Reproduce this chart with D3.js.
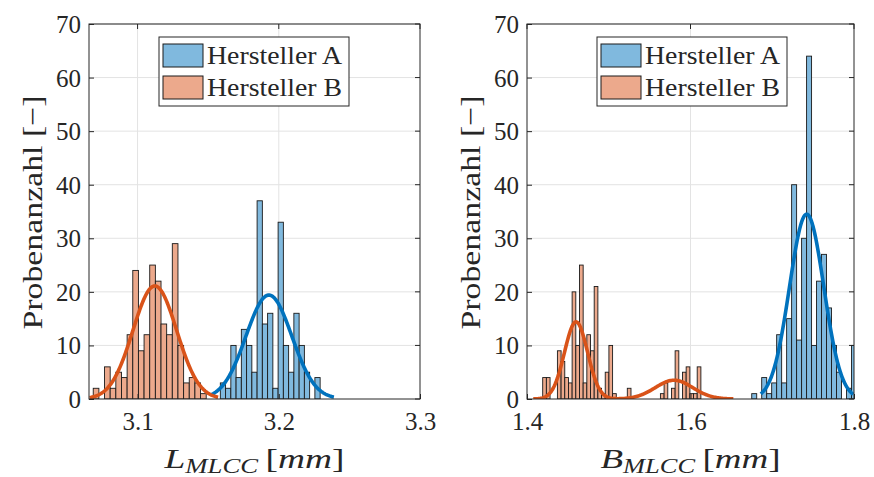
<!DOCTYPE html>
<html><head><meta charset="utf-8">
<script src="https://cdn.jsdelivr.net/npm/d3@7/dist/d3.min.js"></script>
<style>
body{margin:0;background:#fff}
svg{display:block}
text{font-family:"Liberation Serif","Times New Roman",serif;fill:#262626}
</style></head>
<body><svg id="chart" width="874" height="477"></svg>
<script>
// ---------------- data ----------------
const seriesNames = ["Hersteller A", "Hersteller B"];
const yTicks = [0, 10, 20, 30, 40, 50, 60, 70];

// left panel: L_MLCC
const leftXTicks = [3.1, 3.2, 3.3];
const leftXDomain = [3.0656, 3.3];
const leftA_binStart = 3.1586, leftA_binWidth = 0.00372;
const leftA_counts = [3, 2, 10, 4, 13, 10, 5, 37, 14, 16, 2, 33, 10, 5, 16, 10, 5, 0, 4];
const leftB_binStart = 3.0686, leftB_binWidth = 0.0040;
const leftB_counts = [2, 0, 6, 2, 5, 4, 12, 24, 9, 12, 25, 22, 14, 12, 29, 10, 3, 4, 3, 1];
// fit curves: [mean, sigma, peak count], drawn range [from, to]
const leftA_fit = [[3.193, 0.0162, 19.4]];
const leftA_fitRange = [3.152, 3.239];
const leftB_fit = [[3.1122, 0.0155, 21.1]];
const leftB_fitRange = [3.066, 3.157];

// right panel: B_MLCC
const rightXTicks = [1.4, 1.6, 1.8];
const rightXDomain = [1.4, 1.8];
const rightA_binStart = 1.6749, rightA_binWidth = 0.0061;
const rightA_counts = [1, 0, 4, 1, 3, 12, 3, 15, 40, 11, 30, 64, 10, 22, 27, 17, 10, 5, 0, 2, 10];
const rightB_binStart = 1.4192, rightB_binWidth = 0.0045;
const rightB_counts = [4, 4, 0, 0, 9, 7, 4, 3, 20, 10, 25, 3, 12, 9, 21, 2, 1, 5, 10, 1, 0, 0, 0, 2,
                       0, 0, 0, 0, 0, 0, 0, 0, 1, 3, 0, 2, 9, 0, 5, 6, 1, 1, 6];
const rightA_fit = [[1.7421, 0.021, 34.5]];
const rightA_fitRange = [1.686, 1.799];
const rightB_fit = [[1.460, 0.0141, 14.4], [1.5798, 0.0229, 3.5]];
const rightB_fitRange = [1.4077, 1.6524];

// ---------------- style ----------------
const fillA = "#80b9de", fillB = "#eca98c";
const lineA = "#0072bd", lineB = "#d95319";
const axisColor = "#262626", gridColor = "#e3e3e3";
const serif = "Liberation Serif";

const svg = d3.select("#chart");

function panel(opt) {
  const g = svg.append("g");
  const x = d3.scaleLinear().domain(opt.xDomain).range([opt.x0, opt.x1]);
  const y = d3.scaleLinear().domain([0, 70]).range([opt.y1, opt.y0]);

  // grid
  g.append("g").selectAll("line").data(yTicks.slice(1)).join("line")
    .attr("x1", opt.x0).attr("x2", opt.x1)
    .attr("y1", d => y(d)).attr("y2", d => y(d))
    .attr("stroke", gridColor).attr("stroke-width", 1);
  g.append("g").selectAll("line").data(opt.xTicks.filter(t => x(t) > opt.x0 + 1 && x(t) < opt.x1 - 1)).join("line")
    .attr("x1", d => x(d)).attr("x2", d => x(d))
    .attr("y1", opt.y0).attr("y2", opt.y1)
    .attr("stroke", gridColor).attr("stroke-width", 1);

  const clip = "clip" + opt.id;
  svg.append("clipPath").attr("id", clip).append("rect")
    .attr("x", opt.x0).attr("y", opt.y0).attr("width", opt.x1 - opt.x0).attr("height", opt.y1 - opt.y0);
  const plot = g.append("g").attr("clip-path", `url(#${clip})`);

  function bars(start, width, counts, fill) {
    const data = counts.map((c, i) => ({x0: start + i * width, x1: start + (i + 1) * width, c}))
      .filter(d => d.c > 0);
    plot.append("g").selectAll("rect").data(data).join("rect")
      .attr("x", d => x(d.x0)).attr("width", d => x(d.x1) - x(d.x0))
      .attr("y", d => y(d.c)).attr("height", d => y(0) - y(d.c))
      .attr("fill", fill).attr("stroke", "#1a1a1a").attr("stroke-width", 0.9);
  }
  function curve(fit, range, color) {
    const n = 200;
    const pts = d3.range(n + 1).map(i => {
      const xv = range[0] + (range[1] - range[0]) * i / n;
      const yv = d3.sum(fit, f => f[2] * Math.exp(-((xv - f[0]) ** 2) / (2 * f[1] * f[1])));
      return [xv, yv];
    });
    plot.append("path").datum(pts)
      .attr("d", d3.line().x(d => x(d[0])).y(d => y(d[1])))
      .attr("fill", "none").attr("stroke", color).attr("stroke-width", 3.6)
      .attr("stroke-linejoin", "round");
  }
  bars(opt.aStart, opt.aWidth, opt.aCounts, fillA);
  curve(opt.aFit, opt.aRange, lineA);
  bars(opt.bStart, opt.bWidth, opt.bCounts, fillB);
  curve(opt.bFit, opt.bRange, lineB);

  // axes
  const ax = g.append("g").attr("transform", `translate(0,${opt.y1})`)
    .call(d3.axisBottom(x).tickValues(opt.xTicks).tickSizeInner(-5).tickSizeOuter(0).tickPadding(10)
      .tickFormat(d3.format(".1f")));
  const ay = g.append("g").attr("transform", `translate(${opt.x0},0)`)
    .call(d3.axisLeft(y).tickValues(yTicks).tickSizeInner(-5).tickSizeOuter(0).tickPadding(8));
  [ax, ay].forEach(a => {
    a.attr("font-family", serif).attr("font-size", 25);
    a.select(".domain").remove();
    a.selectAll(".tick line").attr("stroke", axisColor);
    a.selectAll(".tick text").attr("fill", axisColor)
      .attr("font-family", serif).attr("font-size", 25)
      .style("font-family", serif).style("font-size", "25px");
  });
  ax.selectAll(".tick text").attr("dy", "0.85em");
  ay.selectAll(".tick text").attr("dy", "0.34em");
  // top/right ticks
  g.append("g").selectAll("line").data(yTicks).join("line")
    .attr("x1", opt.x1).attr("x2", opt.x1 - 5).attr("y1", d => y(d)).attr("y2", d => y(d)).attr("stroke", axisColor);
  g.append("g").selectAll("line").data(opt.xTicks).join("line")
    .attr("x1", d => x(d)).attr("x2", d => x(d)).attr("y1", opt.y0).attr("y2", opt.y0 + 5).attr("stroke", axisColor);
  // box
  g.append("rect").attr("x", opt.x0).attr("y", opt.y0)
    .attr("width", opt.x1 - opt.x0).attr("height", opt.y1 - opt.y0)
    .attr("fill", "none").attr("stroke", axisColor).attr("stroke-width", 1);

  // y label
  svg.append("text")
    .attr("transform", `translate(${opt.x0 - 47},${(opt.y0 + opt.y1) / 2 + 1}) rotate(-90)`)
    .attr("text-anchor", "middle").style("font-size", "28px")
    .attr("textLength", 234).attr("lengthAdjust", "spacingAndGlyphs")
    .text("Probenanzahl [\u2212]");

  // x label
  const xl = svg.append("text")
    .attr("x", (opt.x0 + opt.x1) / 2).attr("y", 468)
    .attr("text-anchor", "middle").style("font-size", "28px")
    .attr("textLength", 180).attr("lengthAdjust", "spacingAndGlyphs");
  xl.append("tspan").style("font-style", "italic").text(opt.sym);
  xl.append("tspan").style("font-style", "italic").style("font-size", "20px").attr("dy", 5).text("MLCC");
  xl.append("tspan").attr("dy", -5).text("\u2009[");
  xl.append("tspan").style("font-style", "italic").text("mm");
  xl.append("tspan").text("]");

  // legend
  const lg = svg.append("g").attr("transform", `translate(${opt.legX},37)`);
  lg.append("rect").attr("x", 0).attr("y", 0).attr("width", 190).attr("height", 69)
    .attr("fill", "#fff").attr("stroke", axisColor).attr("stroke-width", 1);
  [[fillA, seriesNames[0]], [fillB, seriesNames[1]]].forEach((d, i) => {
    lg.append("rect").attr("x", 4).attr("y", 7 + i * 32).attr("width", 40).attr("height", 23)
      .attr("fill", d[0]).attr("stroke", "#1a1a1a").attr("stroke-width", 1);
    lg.append("text").attr("x", 48).attr("y", 27 + i * 32).style("font-size", "26px")
      .attr("textLength", 135).attr("lengthAdjust", "spacingAndGlyphs").text(d[1]);
  });
}

panel({id: "L", x0: 89, x1: 420, y0: 24, y1: 399, xDomain: leftXDomain, xTicks: leftXTicks,
  aStart: leftA_binStart, aWidth: leftA_binWidth, aCounts: leftA_counts, aFit: leftA_fit, aRange: leftA_fitRange,
  bStart: leftB_binStart, bWidth: leftB_binWidth, bCounts: leftB_counts, bFit: leftB_fit, bRange: leftB_fitRange,
  sym: "L", legX: 159});
panel({id: "R", x0: 527, x1: 854, y0: 24, y1: 399, xDomain: rightXDomain, xTicks: rightXTicks,
  aStart: rightA_binStart, aWidth: rightA_binWidth, aCounts: rightA_counts, aFit: rightA_fit, aRange: rightA_fitRange,
  bStart: rightB_binStart, bWidth: rightB_binWidth, bCounts: rightB_counts, bFit: rightB_fit, bRange: rightB_fitRange,
  sym: "B", legX: 597});
</script></body></html>
